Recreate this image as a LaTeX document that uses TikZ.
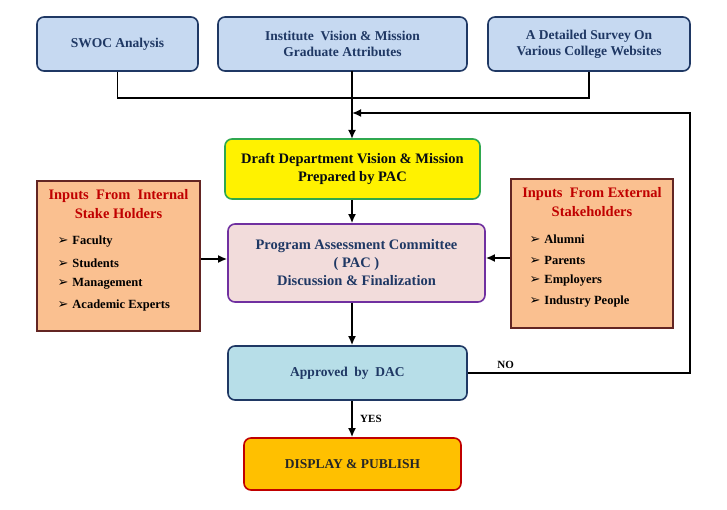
\documentclass[tikz,border=0pt]{standalone}
\usepackage{fontspec}
\setmainfont{Liberation Serif}
\newfontfamily\symfont{DejaVu Sans}
\usetikzlibrary{arrows.meta}
\definecolor{navy}{HTML}{1F3864}
\definecolor{topfill}{HTML}{C6D9F1}
\definecolor{pacfill}{HTML}{F2DCDB}
\definecolor{pacline}{HTML}{7030A0}
\definecolor{drline}{HTML}{2FA84F}
\definecolor{stfill}{HTML}{FAC090}
\definecolor{stline}{HTML}{632523}
\definecolor{redtxt}{HTML}{C00000}
\definecolor{apfill}{HTML}{B7DEE8}
\definecolor{dpfill}{HTML}{FFC000}
\tikzset{
  block/.style={draw=navy,line width=1.6pt,rounded corners=7pt,align=center,
    font=\bfseries\fontsize{13.5}{16}\selectfont,text=navy},
  bigtext/.style={font=\bfseries\fontsize{14.5}{18}\selectfont},
  stakebox/.style={draw=stline,fill=stfill,line width=1.8pt,minimum width=163pt,minimum height=150pt},
  stitle/.style={align=center,text=redtxt,font=\bfseries\fontsize{14.5}{19.5}\selectfont},
  item/.style={anchor=west,font=\bfseries\fontsize{12.5}{13}\selectfont},
  conn/.style={line width=1.8pt},
  arr/.style={conn,-{Latex[length=9pt,width=8pt]}},
  lbl/.style={font=\bfseries\fontsize{11}{12}\selectfont}
}
\newcommand{\bul}{{\symfont\fontsize{13}{13}\selectfont ➢}\hspace{4pt}}
\begin{document}
\begin{tikzpicture}[x=1pt,y=-1pt]
        \useasboundingbox (0,0) rectangle (727,510);
        %top inputs
        \node[block,fill=topfill,minimum width=161pt,minimum height=54pt] (swoc) at (117.5,44) {SWOC Analysis};
        \node[block,fill=topfill,minimum width=249pt,minimum height=54pt] (inst) at (342.5,44) {Institute\ \ Vision \& Mission\\Graduate Attributes};
        \node[block,fill=topfill,minimum width=202pt,minimum height=54pt] (survey) at (589,44) {A Detailed Survey On\\Various College Websites};
        
        \draw[conn] (swoc.south) -- (117.5,98) -- (589,98) -- (survey.south);
        
        %centre column
        \node[block,bigtext,draw=drline,fill=yellow,text=black!80!navy,minimum width=255pt,minimum height=60pt] (draft) at (352.5,169) {Draft Department Vision \& Mission\\Prepared by PAC};
        \node[block,bigtext,draw=pacline,fill=pacfill,minimum width=257pt,minimum height=78pt] (pac) at (356.5,263) {Program Assessment Committee\\( PAC )\\Discussion \& Finalization};
        \node[block,fill=apfill,minimum width=239pt,minimum height=54pt] (appr) at (347.5,373) {Approved\ \ by\ \ DAC};
        \node[block,draw=redtxt,fill=dpfill,text=black!85,minimum width=217pt,minimum height=52pt] (disp) at (352.5,464) {DISPLAY \& PUBLISH};
        
        \coordinate (join) at (352,113);
        \coordinate (corner) at (690,113);
        \draw[arr] (352,71) -- (352,139);
        \draw[arr] (draft.south -| 352,0) -- (pac.north -| 352,0);
        \draw[arr] (pac.south -| 352,0) -- (appr.north -| 352,0);
        \draw[arr] (appr.south -| 352,0) -- node[lbl,right=4pt] {YES} (disp.north -| 352,0);
        \draw[arr] (appr.east) -- node[lbl,above,pos=0.17] {NO} (appr.east -| corner) -- (corner) -- (join);
        
        %internal stake holders
        \node[stakebox] (intern) at (118.5,256) {};
        \node[stitle] (intit) at (118.5,204) {Inputs\ \ From\ \ Internal\\Stake Holders};
        \node[item] (i1) at (54,242) {\bul Faculty};
        \node[item] (i2) at (54,263) {\bul Students};
        \node[item] (i3) at (54,284) {\bul Management};
        \node[item] (i4) at (54,305) {\bul Academic Experts};
        
        %external stake holders
        \node[stakebox,minimum width=162pt,minimum height=149pt] (extern) at (592,253.5) {};
        \node[stitle] (extit) at (592,202) {Inputs\ \ From External\\Stakeholders};
        \node[item] (e1) at (526,239) {\bul Alumni};
        \node[item] (e2) at (526,260) {\bul Parents};
        \node[item] (e3) at (526,281) {\bul Employers};
        \node[item] (e4) at (526,302) {\bul Industry People};
        
        \draw[arr] (intern.east |- 0,259) -- (pac.west |- 0,259);
        \draw[arr] (extern.west |- 0,258) -- (pac.east |- 0,258);
    \end{tikzpicture}
\end{document}
